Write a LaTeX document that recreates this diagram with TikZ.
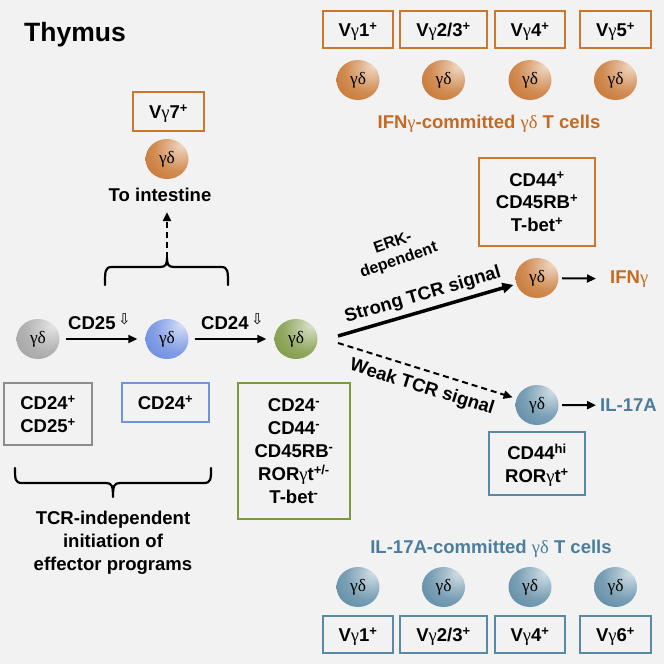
\documentclass[tikz,border=0pt]{standalone}
\usepackage{fontspec}
\setmainfont{Liberation Sans}
\newfontfamily\gkfont{Liberation Serif}
\newfontfamily\djfont{DejaVu Sans}
\usetikzlibrary{arrows.meta,shapes.geometric}
\definecolor{bg}{HTML}{F2F2F2}
\definecolor{orB}{HTML}{C8782F}
\definecolor{orT}{HTML}{C46A22}
\definecolor{tlB}{HTML}{5A8AA3}
\definecolor{tlT}{HTML}{4B7E9C}
\definecolor{grB}{HTML}{8C8C8C}
\definecolor{blB}{HTML}{7094D8}
\definecolor{gnB}{HTML}{7B9A3E}
\definecolor{orC}{HTML}{C2661A}
\definecolor{grC}{HTML}{999999}
\definecolor{blC}{HTML}{5A7EDC}
\definecolor{gnC}{HTML}{6E8C2E}
\definecolor{tlC}{HTML}{4D7F9C}
\colorlet{cellc}{orC}
\pgfdeclareradialshading[cellc]{cellshade}{\pgfqpoint{18bp}{18bp}}{color(0bp)=(cellc!25!white); color(28bp)=(cellc!75!white); color(58bp)=(cellc); color(80bp)=(cellc!92!black); color(100bp)=(cellc!92!black)}
\newcommand\Gm{{\gkfont\mdseries γ}}
\newcommand\Dl{{\gkfont\mdseries δ}}
\newcommand\dnarrow{\hspace{2.5bp}\raisebox{5bp}{\djfont\mdseries\fontsize{15}{15}\selectfont ⇩}}
\newcommand\sups[1]{\textsuperscript{#1}}
\begin{document}
\begin{tikzpicture}[x=1bp,y=-1bp,
  cell color/.code={\colorlet{cellc}{#1}},
  txt/.style={font=\bfseries\fontsize{18.6}{23}\selectfont, inner sep=0pt},
  box/.style={draw=#1, line width=2.4bp, inner sep=0pt, align=center, text depth=0pt,
    font=\bfseries\fontsize{18.6}{23}\selectfont},
  cell/.style={ellipse, minimum width=43bp, minimum height=40bp, inner sep=0pt,
    cell color=#1, shading=cellshade, font=\gkfont\fontsize{17.5}{17.5}\selectfont},
  arr/.style={line width=2bp, -{Triangle[length=9bp,width=8bp]}},
  brace/.style={line width=2.2bp, line cap=round, line join=round},
]
\fill[bg] (0,0) rectangle (664,664);
\useasboundingbox (0,0) rectangle (664,664);

% title
\node[txt, font=\bfseries\fontsize{26.6}{30}\selectfont, anchor=base west] (title) at (24,41.7) {Thymus};

% IFN-committed top row
\node[box=orB, minimum width=70bp, minimum height=37bp] (tb1) at (358,29.5) {V\Gm1\sups{+}};
\node[box=orB, minimum width=87bp, minimum height=37bp] (tb2) at (443.5,29.5) {V\Gm2/3\sups{+}};
\node[box=orB, minimum width=70bp, minimum height=37bp] (tb3) at (530,29.5) {V\Gm4\sups{+}};
\node[box=orB, minimum width=71bp, minimum height=37bp] (tb4) at (615.5,29.5) {V\Gm5\sups{+}};
\node[cell=orC] (tc1) at (358,80) {γδ};
\node[cell=orC] (tc2) at (443.5,80) {γδ};
\node[cell=orC] (tc3) at (530,80) {γδ};
\node[cell=orC] (tc4) at (615.5,80) {γδ};
\node[txt, text=orT, anchor=base] (ifncom) at (489,128.3) {IFN\Gm-committed \Gm\Dl{} T cells};

% Vg7 to intestine
\node[box=orB, minimum width=71bp, minimum height=39bp] (b7) at (168.5,111.5) {V\Gm7\sups{+}};
\node[cell=orC] (c7) at (167,159) {γδ};
\node[txt, anchor=base] (intest) at (160,201.7) {To intestine};

% top brace
\draw[brace] (105,285) .. controls (105,271) and (105,267) .. (112,267) -- (160,267)
  .. controls (166,267) and (167,264) .. (167,258)
  .. controls (167,264) and (168,267) .. (174,267) -- (221,267)
  .. controls (228,267) and (228,271) .. (228,285);
\coordinate (btip) at (167,258);
\draw[arr, dash pattern=on 6bp off 4bp, shorten >=10bp] (btip) -- (btip |- intest.south);

% developmental row
\node[cell=grC] (g) at (38,339) {γδ};
\node[cell=blC] (b) at (167,339) {γδ};
\node[cell=gnC] (gr) at (296,339) {γδ};
\draw[arr, shorten <=6bp, shorten >=8bp] (g) -- (b);
\draw[arr, shorten <=6bp, shorten >=8bp] (b) -- (gr);
\node[txt, anchor=base west] (l25) at (68,329) {CD25\dnarrow};
\node[txt, anchor=base west] (l24) at (201,329) {CD24\dnarrow};

\node[box=grB, minimum width=88bp, minimum height=62bp] (gbox) at (48,414) {CD24\sups{+}\\CD25\sups{+}};
\node[box=blB, minimum width=87bp, minimum height=39bp] (bbox) at (165.5,402.5) {CD24\sups{+}};
\node[box=gnB, minimum width=112bp, minimum height=136bp] (gnbox) at (294,451)
  {CD24\sups{-}\\CD44\sups{-}\\CD45RB\sups{-}\\ROR\Gm t\sups{+/-}\\T-bet\sups{-}};

% bottom brace
\draw[brace] (15,468) .. controls (15,479) and (15,483) .. (22,483) -- (106,483)
  .. controls (112,483) and (113,486) .. (113,497)
  .. controls (113,486) and (114,483) .. (120,483) -- (204,483)
  .. controls (211,483) and (211,479) .. (211,468);
\node[txt, align=center, text depth=0pt] (tcrind) at (113,540.4) {TCR-independent\\initiation of\\effector programs};

% branching
\coordinate (s1) at (338,336);
\coordinate (w1) at (338,343);
\node[cell=orC] (ifn) at (537,278) {γδ};
\node[cell=tlC] (il) at (537,405) {γδ};
\draw[line width=3.5bp, -{Triangle[length=11bp,width=10bp]}, shorten >=3bp] (s1) -- (ifn)
  node[midway, sloped, above=5bp, txt] (strong) {Strong TCR signal};
\draw[arr, dash pattern=on 6bp off 4bp, shorten >=4bp] (w1) -- (il)
  node[midway, sloped, below=8bp, txt] (weak) {Weak TCR signal};
\node[txt, rotate=19, align=center, font=\bfseries\fontsize{16}{18.5}\selectfont] (erk) at (396,252) {ERK-\\dependent};

\node[box=orB, minimum width=116bp, minimum height=88bp] (obox) at (537,202) {CD44\sups{+}\\CD45RB\sups{+}\\T-bet\sups{+}};
\node[box=tlB, minimum width=96bp, minimum height=63bp] (tbox) at (537,463.5) {CD44\sups{hi}\\ROR\Gm t\sups{+}};

\node[txt, text=orT, anchor=base west] (ifntxt) at (610,283.3) {IFN\Gm};
\node[txt, text=tlT, anchor=base west] (iltxt) at (600,411.7) {IL-17A};
\draw[arr, shorten <=3.5bp, shorten >=14bp] (ifn) -- (ifntxt);
\draw[arr, shorten <=3.5bp, shorten >=4bp] (il) -- (iltxt);

% IL-17A-committed bottom row
\node[txt, text=tlT, anchor=base] (ilcom) at (491,553.3) {IL-17A-committed \Gm\Dl{} T cells};
\node[cell=tlC] (bc1) at (358,587) {γδ};
\node[cell=tlC] (bc2) at (443.5,587) {γδ};
\node[cell=tlC] (bc3) at (530,587) {γδ};
\node[cell=tlC] (bc4) at (615.5,587) {γδ};
\node[box=tlB, minimum width=70bp, minimum height=37bp] (bb1) at (358,634.5) {V\Gm1\sups{+}};
\node[box=tlB, minimum width=87bp, minimum height=37bp] (bb2) at (443.5,634.5) {V\Gm2/3\sups{+}};
\node[box=tlB, minimum width=70bp, minimum height=37bp] (bb3) at (530,634.5) {V\Gm4\sups{+}};
\node[box=tlB, minimum width=71bp, minimum height=37bp] (bb4) at (615.5,634.5) {V\Gm6\sups{+}};
\end{tikzpicture}
\end{document}
